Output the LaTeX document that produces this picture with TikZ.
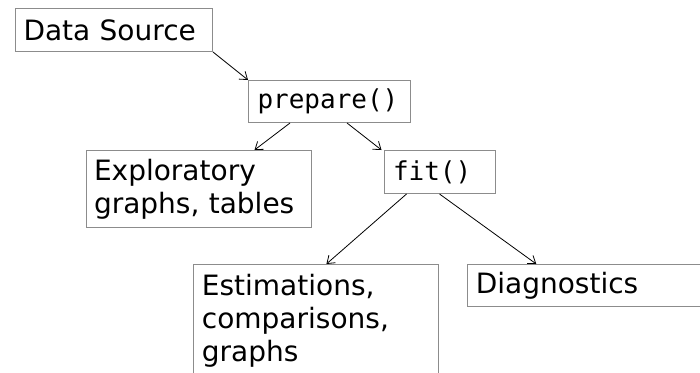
\documentclass[tikz,border=0pt]{standalone}
\usepackage{fontspec}
\setmainfont{DejaVu Sans}
\setmonofont{DejaVu Sans Mono}
\usetikzlibrary{positioning, arrows.meta, calc}
\definecolor{boxgray}{RGB}{140,140,140}

\begin{document}
\begin{tikzpicture}[x=1pt, y=-1pt, >={Straight Barb[length=7pt, width=10pt]},
    box/.style = {draw=boxgray, line width=1pt, anchor=north west, inner xsep=8pt, inner ysep=0pt,
                  align=left, font=\fontsize{28}{33}\selectfont},
    code/.style = {font=\fontsize{26}{33}\selectfont\ttfamily},
    flow/.style = {->, line width=0.8pt}]
    \path[use as bounding box, clip] (0,0) rectangle (700,372);
    \node[box, text width=181pt, minimum height=43pt] (src) at (15,8) {Data Source};
    \node[box, code, inner xsep=9pt, text width=144pt, minimum height=42pt] (prep) [below right=28pt and 35pt of src] {prepare()};
    \node[box, text width=209pt, minimum height=77pt] (expl) [below left=27pt and 18pt of prep.south] {Exploratory\\graphs, tables};
    \node[box, code, inner xsep=9pt, text width=93.6pt, minimum height=43pt] (fit) [below right=27pt and 54pt of prep.south] {fit()};
    \node[box, text width=228.4pt, minimum height=113pt] (est) [below left=70pt and 1pt of fit.south] {Estimations,\\comparisons,\\graphs};
    \node[box, text width=244pt, minimum height=42pt] (diag) [below right=70pt and 27.5pt of fit.south] {Diagnostics};
    \draw[flow] (src.south east) -- (prep.north west);
    \draw[flow] ([xshift=42pt]prep.south west) -- ([xshift=169pt]expl.north west);
    \draw[flow] ([xshift=99pt]prep.south west) -- ([xshift=-2pt]fit.north west);
    \draw[flow] ([xshift=23pt]fit.south west) -- ([xshift=133pt]est.north west);
    \draw[flow] ([xshift=56pt]fit.south west) -- ([xshift=69pt]diag.north west);
\end{tikzpicture}
\end{document}
